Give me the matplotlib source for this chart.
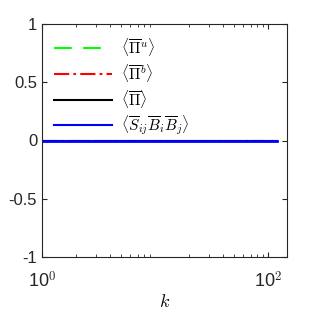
import numpy as np
import matplotlib
matplotlib.use("Agg")
import matplotlib.pyplot as plt

k = [1, 2, 5, 10, 20, 50, 100, 120]
pi_u = [0, 0, 0, 0, 0, 0, 0, 0]
pi_b = [0, 0, 0, 0, 0, 0, 0, 0]
pi_tot = [0, 0, 0, 0, 0, 0, 0, 0]
sbb = [0, 0, 0, 0, 0, 0, 0, 0]
labels = [r"$\langle\overline{\Pi}^u\rangle$", r"$\langle\overline{\Pi}^b\rangle$",
          r"$\langle\overline{\Pi}\rangle$", r"$\langle\overline{S}_{ij}\overline{B}_i\overline{B}_j\rangle$"]

plt.rcParams['font.family'] = ['Liberation Sans', 'DejaVu Sans']
plt.rcParams['mathtext.fontset'] = 'cm'

fig = plt.figure(figsize=(3.19, 3.19), dpi=100)
ax = fig.add_axes([42/319, 1-257/319, 245/319, 233/319])

ax.plot(k, pi_u, color=(0, 1, 0), ls=(0, (8.5, 5.5)), lw=1.5, label=labels[0])
ax.plot(k, pi_b, color=(1, 0, 0), ls=(0, (7.3, 2, 1.3, 2)), lw=1.5, label=labels[1])
ax.plot(k, pi_tot, color='black', ls='-', lw=1.5, label=labels[2])
ax.plot(k, sbb, color=(0, 0, 1), ls='-', lw=2, label=labels[3])

ax.set_xscale('log')
ax.set_xlim(1, 147)
ax.set_ylim(-1, 1)
ax.set_yticks([-1, -0.5, 0, 0.5, 1])
ax.set_yticklabels(['-1', '-0.5', '0', '0.5', '1'])
ax.set_xticks([1, 100])
ax.set_xticklabels([r'10$^0$', r'10$^2$'])
ax.tick_params(which='both', direction='in', top=True, right=True, labelsize=12, colors='#262626')
ax.tick_params(which='major', length=3.5)
ax.tick_params(which='minor', length=2)
ax.tick_params(axis='x', which='major', pad=10, labelsize=13)
for s in ax.spines.values():
    s.set_color('#262626')
    s.set_linewidth(0.8)
ax.set_xlabel(r'$k$', fontsize=13, labelpad=2)

leg = ax.legend(loc='upper left', frameon=False, fontsize=11, handlelength=3.8,
                labelspacing=0.25, borderaxespad=0.4, handletextpad=0.6)
for h in leg.get_lines():
    h.set_linewidth(1.5)
fig.savefig('out.png', dpi=100)
